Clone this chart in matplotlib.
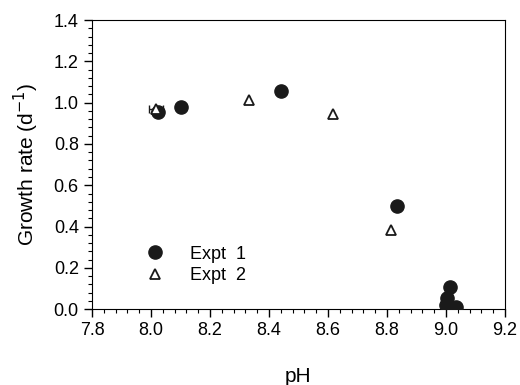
import matplotlib
matplotlib.use("Agg")
from matplotlib import pyplot as plt
from matplotlib.ticker import MultipleLocator

plt.rcParams['font.family'] = ['Liberation Sans', 'DejaVu Sans']

# Expt 1 (кружки)
ph1 = [8.024, 8.10, 8.44, 8.834, 9.013, 9.003, 9.0, 9.034]
rate1 = [0.956, 0.98, 1.058, 0.50, 0.107, 0.053, 0.02, 0.01]
ph1_err = [0.0, 0.0, 0.012, 0.0, 0.0, 0.0, 0.0, 0.0]

# Expt 2 (треугольники)
ph2 = [8.017, 8.332, 8.617, 8.814]
rate2 = [0.97, 1.014, 0.946, 0.383]
ph2_err = [0.025, 0.0, 0.0, 0.0]

dark = '#1a1a1a'

fig = plt.figure(figsize=(5.2, 3.85), dpi=100)
ax = fig.add_axes([0.177, 0.197, 0.794, 0.751])

# планки погрешностей отдельно, чтобы не попадали в легенду
ax.errorbar(ph1, rate1, xerr=ph1_err, fmt='none', ecolor=dark,
            capsize=3, elinewidth=1, zorder=2)
ax.errorbar(ph2, rate2, xerr=ph2_err, fmt='none', ecolor=dark,
            capsize=3, elinewidth=1, zorder=2)

ax.plot(ph1, rate1, 'o', color=dark, ms=9.5, label='Expt  1', zorder=3)
ax.plot(ph2, rate2, '^', mfc='white', mec=dark, mew=1.3, ms=7.5,
        label='Expt  2', zorder=4)

ax.set_xlim(7.8, 9.2)
ax.set_ylim(0, 1.4)
ax.xaxis.set_major_locator(MultipleLocator(0.2))
ax.xaxis.set_minor_locator(MultipleLocator(0.04))
ax.yaxis.set_major_locator(MultipleLocator(0.2))
ax.yaxis.set_minor_locator(MultipleLocator(0.04))
ax.xaxis.set_major_formatter(plt.FormatStrFormatter('%.1f'))
ax.yaxis.set_major_formatter(plt.FormatStrFormatter('%.1f'))
ax.tick_params(which='both', direction='out', top=False, right=False,
               labelsize=13)
ax.tick_params(which='major', length=6, width=1)
ax.tick_params(which='minor', length=3, width=0.8)

ax.set_xlabel('pH', fontsize=15, labelpad=20)
ax.set_ylabel('Growth rate (d$^{-1}$)', fontsize=15, labelpad=9)

ax.legend(loc='lower left', bbox_to_anchor=(0.08, 0.03), frameon=False,
          fontsize=13, handletextpad=1.2, labelspacing=0.25,
          handlelength=1.5)

fig.savefig('out.png', dpi=100)
